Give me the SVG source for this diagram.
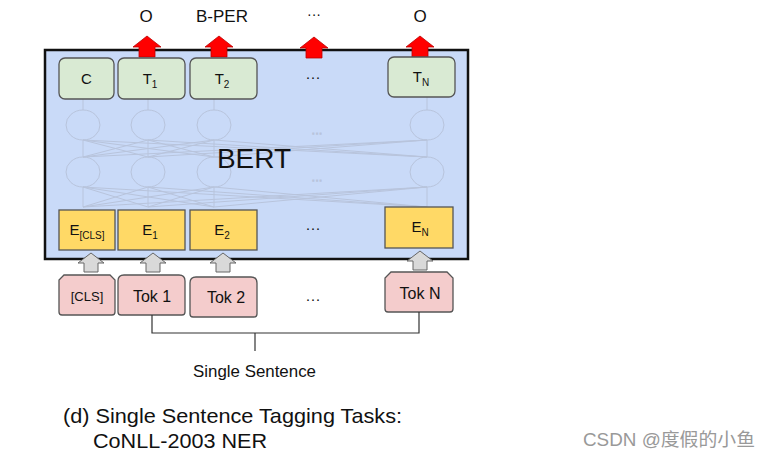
<svg xmlns="http://www.w3.org/2000/svg" width="771" height="459" viewBox="0 0 771 459">
<style>
text{font-family:"Liberation Sans",Arial,sans-serif;fill:#111;}
.t{font-size:15px;text-anchor:middle;}
.sub{font-size:10px;}
.tbox{fill:#D9EAD3;stroke:#555;stroke-width:1.3;}
.ebox{fill:#FFD966;stroke:#555;stroke-width:1.3;}
.tok{fill:#F4CCCC;stroke:#555;stroke-width:1.3;}
.red{fill:#FF0000;stroke:#B00;stroke-width:0.8;}
.gray{fill:#D9D9D9;stroke:#666;stroke-width:1;}
.nn{fill:none;stroke:#B8C4DC;stroke-width:1;}
.ln{fill:none;stroke:#333;stroke-width:1.2;}
</style>
<defs>
<path id="ra" d="M-14,11 L0,0 L14,11 L8,11 L8,21 L-8,21 L-8,11 Z"/>
<path id="ga" d="M-13,10 L0,0 L13,10 L7,10 L7,19 L-7,19 L-7,10 Z"/>
</defs>
<rect width="771" height="459" fill="#fff"/>
<g id="bert">
<rect x="45" y="50" width="423" height="209" fill="#C9DAF8" stroke="#111" stroke-width="2.5"/>
</g>
<g id="network" class="nn">
<line x1="83" y1="99" x2="83" y2="110"/><line x1="148" y1="99" x2="148" y2="110"/><line x1="214" y1="99" x2="214" y2="110"/><line x1="427" y1="97" x2="427" y2="110"/>
<ellipse cx="83" cy="125" rx="17" ry="15"/><ellipse cx="148" cy="125" rx="17" ry="15"/><ellipse cx="214" cy="125" rx="17" ry="15"/><ellipse cx="427" cy="125" rx="17" ry="15"/>
<ellipse cx="83" cy="172" rx="17" ry="15"/><ellipse cx="148" cy="172" rx="17" ry="15"/><ellipse cx="214" cy="172" rx="17" ry="15"/><ellipse cx="427" cy="172" rx="17" ry="15"/>
<path d="M83,157 L83,140 M83,157 L148,140 M83,157 L214,140 M83,157 L427,140 M148,157 L83,140 M148,157 L148,140 M148,157 L214,140 M148,157 L427,140 M214,157 L83,140 M214,157 L148,140 M214,157 L214,140 M214,157 L427,140 M427,157 L83,140 M427,157 L148,140 M427,157 L214,140 M427,157 L427,140"/>
<path d="M83,207 L83,187 M83,207 L148,187 M83,207 L214,187 M83,207 L427,187 M148,207 L83,187 M148,207 L148,187 M148,207 L214,187 M148,207 L427,187 M214,207 L83,187 M214,207 L148,187 M214,207 L214,187 M214,207 L427,187 M427,207 L83,187 M427,207 L148,187 M427,207 L214,187 M427,207 L427,187"/>
<text x="317" y="137" class="t" style="fill:#B8C4DC;font-size:11px">···</text>
<text x="317" y="184" class="t" style="fill:#B8C4DC;font-size:11px">···</text>
</g>
<text x="254" y="168" style="font-size:28px;text-anchor:middle">BERT</text>
<g id="outputs">
<text x="146" y="22" class="t" style="font-size:17px">O</text>
<text x="222" y="22" class="t" style="font-size:17px">B-PER</text>
<text x="314" y="19" class="t" style="font-size:14px">···</text>
<text x="420" y="22" class="t" style="font-size:17px">O</text>
<use href="#ra" x="147" y="36" class="red"/>
<use href="#ra" x="219" y="36" class="red"/>
<use href="#ra" x="314" y="37" class="red"/>
<use href="#ra" x="420" y="36" class="red"/>
</g>
<g id="T-C"><rect x="59" y="58" width="55" height="41" rx="6" class="tbox"/><text x="86.5" y="84" class="t">C</text></g>
<g id="T-1"><rect x="118" y="58" width="67" height="41" rx="6" class="tbox"/><text x="150" y="84" class="t">T<tspan class="sub" dy="4">1</tspan></text></g>
<g id="T-2"><rect x="190" y="58" width="67" height="41" rx="6" class="tbox"/><text x="222" y="84" class="t">T<tspan class="sub" dy="4">2</tspan></text></g>
<text x="313" y="82" class="t">···</text>
<g id="T-N"><rect x="388" y="57" width="67" height="40" rx="6" class="tbox"/><text x="421" y="82" class="t">T<tspan class="sub" dy="4">N</tspan></text></g>
<g id="E-CLS"><rect x="59" y="210" width="56" height="40" class="ebox"/><text x="87" y="235" class="t">E<tspan class="sub" dy="4">[CLS]</tspan></text></g>
<g id="E-1"><rect x="118" y="210" width="67" height="40" class="ebox"/><text x="150" y="235" class="t">E<tspan class="sub" dy="4">1</tspan></text></g>
<g id="E-2"><rect x="190" y="210" width="67" height="40" class="ebox"/><text x="222" y="235" class="t">E<tspan class="sub" dy="4">2</tspan></text></g>
<text x="313" y="233" class="t">···</text>
<g id="E-N"><rect x="385" y="207" width="68" height="41" class="ebox"/><text x="420" y="232" class="t">E<tspan class="sub" dy="4">N</tspan></text></g>
<g id="inputs">
<use href="#ga" x="91" y="253" class="gray"/>
<use href="#ga" x="153" y="253" class="gray"/>
<use href="#ga" x="223" y="253" class="gray"/>
<use href="#ga" x="420" y="251" class="gray"/>
</g>
<g id="Tok-CLS"><path d="M64,275 L110,275 L115,280 L115,312 Q115,315 112,315 L62,315 Q59,315 59,312 L59,280 Z" class="tok"/><text x="87" y="301" class="t" style="font-size:13px">[CLS]</text></g>
<g id="Tok-1"><path d="M124,275 L179,275 Q185,275 185,281 L185,312 Q185,315 182,315 L121,315 Q118,315 118,312 L118,281 Q118,275 124,275 Z" class="tok"/><text x="152" y="302" class="t" style="font-size:16px">Tok 1</text></g>
<g id="Tok-2"><path d="M196,277 L251,277 Q257,277 257,283 L257,314 Q257,317 254,317 L193,317 Q190,317 190,314 L190,283 Q190,277 196,277 Z" class="tok"/><text x="226" y="303" class="t" style="font-size:16px">Tok 2</text></g>
<text x="313" y="304" class="t">···</text>
<g id="Tok-N"><path d="M391,272 L447,272 L453,278 L453,309 Q453,312 450,312 L388,312 Q385,312 385,309 L385,278 Z" class="tok"/><text x="420" y="299" class="t" style="font-size:16px">Tok N</text></g>
<g id="connectors" class="ln">
<path d="M152,315 L152,333 L419,333 L419,312"/>
<path d="M255,333 L255,351"/>
</g>
<text x="193" y="377" textLength="123" lengthAdjust="spacingAndGlyphs" style="font-size:17px">Single Sentence</text>
<text x="63" y="423" textLength="339" lengthAdjust="spacingAndGlyphs" style="font-size:21px">(d) Single Sentence Tagging Tasks:</text>
<text x="93" y="448" textLength="174" lengthAdjust="spacingAndGlyphs" style="font-size:21px">CoNLL-2003 NER</text>
<text x="583" y="446" textLength="172" lengthAdjust="spacingAndGlyphs" style="font-size:18px;fill:#999;font-family:'Liberation Sans','Noto Sans CJK SC',sans-serif">CSDN @度假的小鱼</text>
</svg>
